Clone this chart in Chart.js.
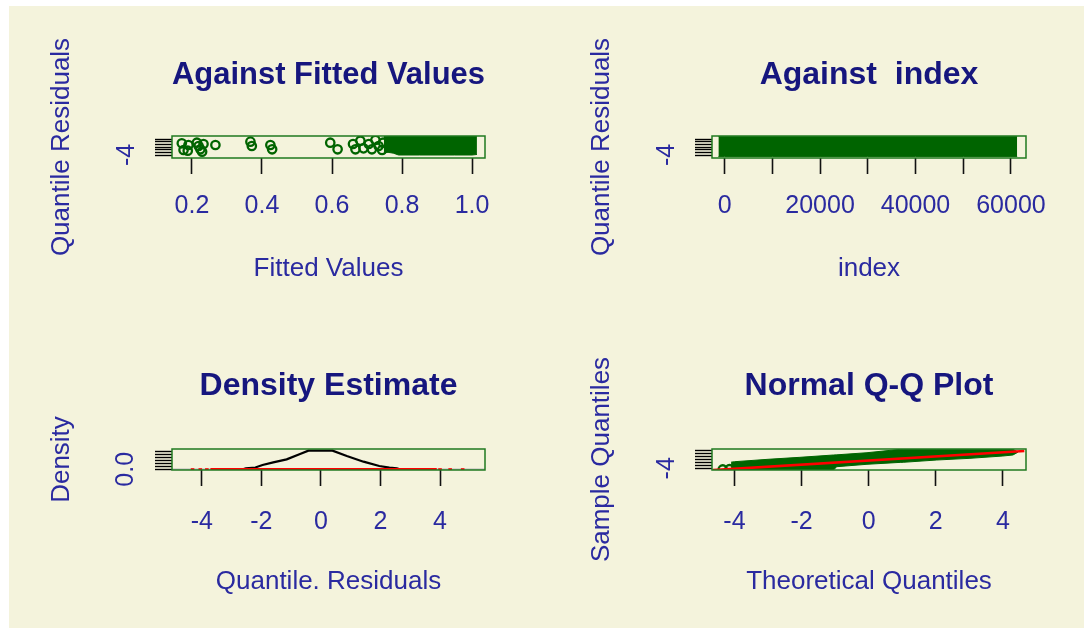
<!DOCTYPE html>
<html><head><meta charset="utf-8">
<script src="https://cdn.jsdelivr.net/npm/chart.js@4.4.0/dist/chart.umd.min.js"></script>
<style>
html,body{margin:0;padding:0;background:#fff;width:1084px;height:628px;overflow:hidden;}
#bg{position:absolute;left:9px;top:6px;width:1075px;height:622px;background:#F4F3DC;}
canvas{position:absolute;left:0;top:0;}
</style></head><body>
<div id="bg"></div>
<canvas id="c1" width="1084" height="628"></canvas>
<canvas id="c2" width="1084" height="628"></canvas>
<canvas id="c3" width="1084" height="628"></canvas>
<canvas id="c4" width="1084" height="628"></canvas>
<script>
// ---------- Panel 1: Against Fitted Values ----------
const fittedValues    = [0.171,0.176,0.190,0.188,0.214,0.224,0.233,0.229,0.219,0.267,0.367,0.371,0.424,0.429,0.595,0.616,0.660,0.667,0.681,0.690,0.705,0.714,0.724,0.733,0.746,0.743];
const fittedResiduals = [0.39,-2.13,-0.25,-2.39,0.61,-1.86,0.12,-2.76,-0.63,-0.25,1.0,-0.63,-0.25,-1.86,0.61,-1.86,0.12,-1.86,1.37,-1.5,0.12,-1.86,1.62,-0.63,0.61,-2.13];
// dense cloud of overlapping points (envelope)
const denseFitted = [0.748,0.76,0.775,0.79,0.80,0.85,0.90,0.95,1.00,1.014];
const denseUpper  = [2.9,3.1,3.1,3.1,3.1,3.1,3.1,3.1,3.1,3.0];
const denseLower  = [-3.2,-3.0,-3.3,-4.0,-4.0,-4.0,-4.0,-4.0,-4.0,-3.8];
const fittedTicks = [0.2,0.4,0.6,0.8,1.0];
const fittedTickLabels = ['0.2','0.4','0.6','0.8','1.0'];

// ---------- Panel 2: Against index ----------
const indexPositions = [-1300,0,10000,20000,30000,40000,50000,60000,61300];
const indexUpper = [3.05,3.05,3.05,3.05,3.05,3.05,3.05,3.05,3.05];
const indexLower = [-4.6,-4.6,-4.6,-4.6,-4.6,-4.6,-4.6,-4.6,-4.6];
const indexTicks = [0,10000,20000,30000,40000,50000,60000];
const indexTickLabels = ['0','','20000','','40000','','60000'];

// shared residual axis
const residualTicks = [-4,-3,-2,-1,0,1,2];
const residualTickLabel = '-4';

// ---------- Panel 3: Density Estimate ----------
const densityX = [-2.62,-2.52,-2.2,-1.96,-1.6,-1.15,-0.7,-0.42,0.0,0.39,0.87,1.43,1.96,2.3,2.55,2.65];
const densityY = [0.0,0.017,0.03,0.073,0.119,0.17,0.261,0.317,0.32,0.317,0.227,0.13,0.056,0.03,0.017,0.0];
const baselineX = [-5.0,5.51];
const rugDenseX = [-3.71,3.89];
const rugOutliers = [-4.31,-4.05,-3.83,4.0,4.34,4.76];
const densityTicks = [0,0.05,0.1,0.15,0.2,0.25,0.3];
const densityTickLabel = '0.0';
const quantileTicks = [-4,-2,0,2,4];
const quantileTickLabels = ['-4','-2','0','2','4'];

// ---------- Panel 4: Normal Q-Q Plot ----------
const qqX     = [-4.1,-4.0,-3.0,-2.05,-1.05,-0.95,-0.05,0.94,1.03,2.03,3.02,4.0,4.3,4.45];
const qqUpper = [-1.9,-1.75,-0.93,-0.25,0.54,0.6,1.32,2.48,2.5,2.5,2.5,2.5,2.45,1.6];
const qqLower = [-4.58,-4.58,-4.58,-4.58,-4.58,-3.45,-2.63,-1.98,-1.95,-1.17,-0.59,0.2,0.54,1.5];
const qqExtremeX = [-4.35,-4.15];
const qqExtremeY = [-4.4,-4.3];
const qqLineX = [-4.64,4.64];
const qqLineY = [-4.62,1.9];

// ---------- styling ----------
const GREEN = '#006400';
const FONT = '"Liberation Sans", Arial, Helvetica, sans-serif';
const TITLE_COLOR = '#16167e';
const LABEL_COLOR = '#2a2aa0';
const zip = (xs, ys) => xs.map((x, i) => ({x, y: ys[i]}));
const flat = (xs, v) => xs.map(x => ({x, y: v}));

const rPanelPlugin = {
  id: 'rPanel',
  afterDatasetsDraw(chart, args, opts) {
    const {ctx, chartArea: a} = chart;
    ctx.save();
    ctx.strokeStyle = '#1f7a1f';
    ctx.lineWidth = 1.5;
    ctx.strokeRect(a.left, a.top, a.right - a.left, a.bottom - a.top);
    const ys = chart.scales.y;
    ctx.fillStyle = LABEL_COLOR;
    ctx.font = '25px ' + FONT;
    ctx.textAlign = 'center';
    ctx.textBaseline = 'middle';
    ctx.translate(opts.labelX, ys.getPixelForValue(opts.labelValue));
    ctx.rotate(-Math.PI / 2);
    ctx.fillText(opts.labelText, 0, 0);
    ctx.restore();
  }
};

function buildChart(id, p) {
  const lhT = 32 * 1.2, lhA = 26 * 1.2, lhK = 25 * 1.2;
  const yLeft = p.yTitleX - lhA / 2;
  const xBottom = p.xTitleY + lhA / 2;
  const padTop = p.titleY - lhT / 2;
  const tickLen = 16;
  return new Chart(document.getElementById(id), {
    type: 'line',
    data: {datasets: p.datasets},
    options: {
      responsive: false, animation: false, events: [],
      layout: {padding: {left: yLeft, top: padTop, right: 1084 - p.area.r, bottom: 628 - xBottom}},
      plugins: {
        legend: {display: false}, tooltip: {enabled: false},
        title: {display: true, text: p.title, fullSize: false, color: TITLE_COLOR,
                font: {family: FONT, size: 32, weight: 'bold'},
                padding: {top: 0, bottom: p.area.t - padTop - lhT}},
        rPanel: {labelX: p.yLabelX, labelValue: p.yLabelValue, labelText: p.yLabelText}
      },
      scales: {
        x: {type: 'linear', min: p.xMin, max: p.xMax,
            afterBuildTicks: s => { s.ticks = p.xTicks.map(v => ({value: v})); },
            afterFit: s => { s.height = xBottom - p.area.b; },
            ticks: {callback: (v, i) => p.xLabels[i], autoSkip: false, maxRotation: 0, minRotation: 0,
                    padding: p.tickLabelY - p.area.b - tickLen - lhK / 2 + 2,
                    color: LABEL_COLOR, font: {family: FONT, size: 25}},
            grid: {drawOnChartArea: false, drawTicks: true, tickLength: tickLen, tickColor: '#111', tickWidth: 1.6},
            border: {display: false},
            title: {display: true, text: p.xTitle, color: LABEL_COLOR, font: {family: FONT, size: 26}, padding: 0}},
        y: {type: 'linear', min: p.yMin, max: p.yMax,
            afterBuildTicks: s => { s.ticks = p.yTicks.map(v => ({value: v})); },
            afterFit: s => { s.width = p.area.l - yLeft; },
            ticks: {display: false},
            grid: {drawOnChartArea: false, drawTicks: true, tickLength: 17, tickColor: '#000', tickWidth: 1.4},
            border: {display: false},
            title: {display: true, text: p.yTitle, color: LABEL_COLOR, font: {family: FONT, size: 26}, padding: 0}}
      }
    },
    plugins: [rPanelPlugin]
  });
}

const circleStyle = {showLine: false, pointStyle: 'circle', pointRadius: 4.2, pointBorderWidth: 2.3,
  pointBorderColor: GREEN, pointBackgroundColor: 'rgba(0,0,0,0)', clip: 0};
const bandStyle = {borderColor: GREEN, borderWidth: 1, pointRadius: 0, backgroundColor: GREEN, tension: 0, clip: 0};

// Panel 1
buildChart('c1', {
  area: {l: 172, t: 136, r: 485, b: 158}, titleY: 75, tickLabelY: 204.5, xTitleY: 269, yTitleX: 62, yLabelX: 127,
  title: 'Against Fitted Values', xTitle: 'Fitted Values', yTitle: 'Quantile Residuals',
  xMin: 0.143, xMax: 1.037, xTicks: fittedTicks, xLabels: fittedTickLabels,
  yMin: -5.125, yMax: 3.125, yTicks: residualTicks, yLabelValue: -4, yLabelText: residualTickLabel,
  datasets: [
    Object.assign({data: zip(fittedValues, fittedResiduals), order: 0}, circleStyle),
    Object.assign({data: zip(denseFitted, denseUpper), fill: '+1', order: 1}, bandStyle),
    Object.assign({data: zip(denseFitted, denseLower), fill: false, order: 1}, bandStyle)
  ]
});

// Panel 2
buildChart('c2', {
  area: {l: 712, t: 136, r: 1026, b: 158}, titleY: 75, tickLabelY: 204.5, xTitleY: 269, yTitleX: 602, yLabelX: 667,
  title: 'Against  index', xTitle: 'index', yTitle: 'Quantile Residuals',
  xMin: -2640, xMax: 63150, xTicks: indexTicks, xLabels: indexTickLabels,
  yMin: -5.125, yMax: 3.125, yTicks: residualTicks, yLabelValue: -4, yLabelText: residualTickLabel,
  datasets: [
    Object.assign({data: zip(indexPositions, indexUpper), fill: '+1', order: 1}, bandStyle),
    Object.assign({data: zip(indexPositions, indexLower), fill: false, order: 1}, bandStyle)
  ]
});

// Panel 3
buildChart('c3', {
  area: {l: 172, t: 449, r: 485, b: 470}, titleY: 386, tickLabelY: 520, xTitleY: 582, yTitleX: 62, yLabelX: 126,
  title: 'Density Estimate', xTitle: 'Quantile. Residuals', yTitle: 'Density',
  xMin: -5.0, xMax: 5.51, xTicks: quantileTicks, xLabels: quantileTickLabels,
  yMin: -0.012, yMax: 0.346, yTicks: densityTicks, yLabelValue: 0, yLabelText: densityTickLabel,
  datasets: [
    {data: zip(densityX, densityY), borderColor: '#000', borderWidth: 2.2, pointRadius: 0, fill: false, tension: 0, clip: 0, order: 2},
    {data: flat(rugDenseX, 0), borderColor: '#ff0000', borderWidth: 2.4, pointRadius: 0, fill: false, clip: 0, order: 0},
    {data: flat(rugOutliers, 0), showLine: false, pointStyle: 'line', pointRadius: 1.8, pointBorderWidth: 2.2,
     pointBorderColor: '#ff0000', clip: 0, order: 0},
    {data: flat(baselineX, 0), borderColor: '#b8b8b8', borderWidth: 1.5, pointRadius: 0, fill: false, clip: 0, order: 3}
  ]
});

// Panel 4
buildChart('c4', {
  area: {l: 712, t: 449, r: 1026, b: 470}, titleY: 386, tickLabelY: 520, xTitleY: 582, yTitleX: 602, yLabelX: 667,
  title: 'Normal Q-Q Plot', xTitle: 'Theoretical Quantiles', yTitle: 'Sample Quantiles',
  xMin: -4.67, xMax: 4.69, xTicks: quantileTicks, xLabels: quantileTickLabels,
  yMin: -4.58, yMax: 2.59, yTicks: residualTicks, yLabelValue: -4, yLabelText: residualTickLabel,
  datasets: [
    {data: zip(qqLineX, qqLineY), borderColor: '#ff0000', borderWidth: 2.6, pointRadius: 0, fill: false, clip: 0, order: 0},
    Object.assign({data: zip(qqX, qqUpper), fill: '+1', order: 2}, bandStyle),
    Object.assign({data: zip(qqX, qqLower), fill: false, order: 2}, bandStyle),
    Object.assign({data: zip(qqExtremeX, qqExtremeY), order: 1}, circleStyle)
  ]
});
</script>
</body></html>
